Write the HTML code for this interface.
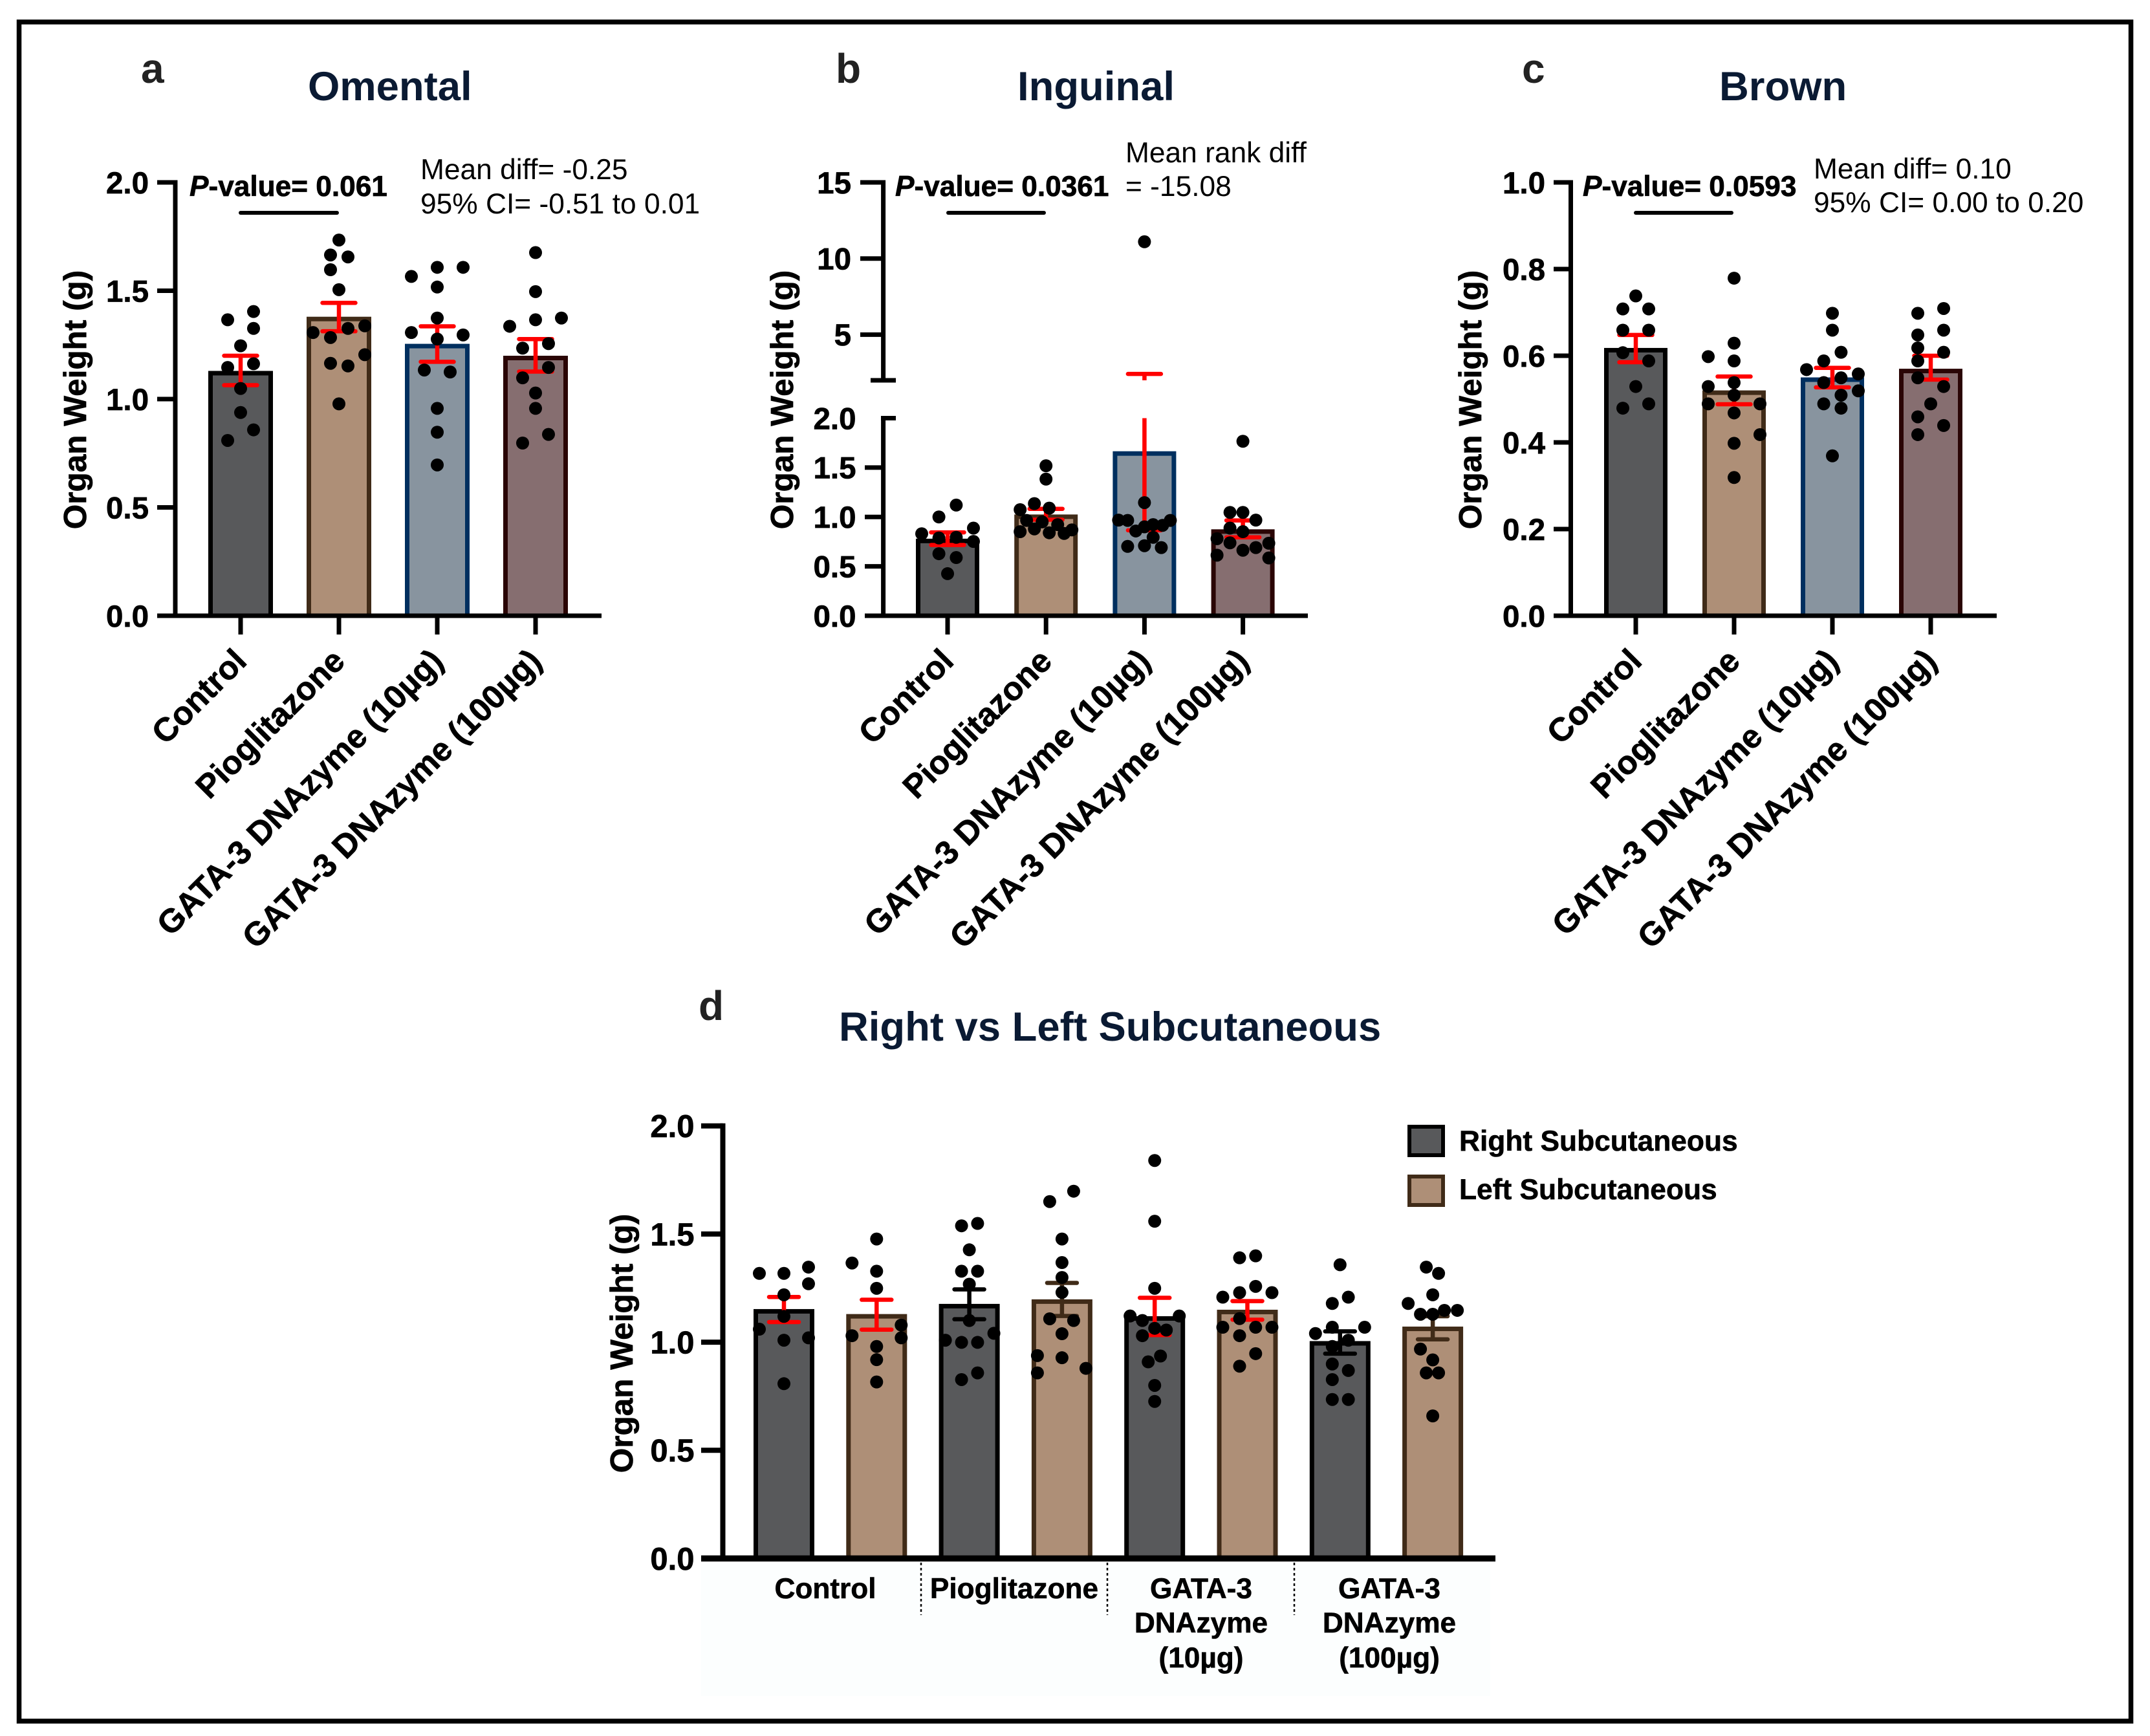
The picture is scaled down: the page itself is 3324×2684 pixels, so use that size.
<!DOCTYPE html>
<html lang="en">
<head>
<meta charset="utf-8">
<title>Organ weight by treatment</title>
<style>
  html, body { margin: 0; padding: 0; background: #fff; }
  body { width: 3324px; height: 2684px; overflow: hidden; }
  svg { display: block; }
  text { font-family: "Liberation Sans", Arial, sans-serif; }
  .b { font-weight: 700; }
  .title { font-weight: 700; font-size: 63.4px; fill: #0a1a33; }
  .letter { font-weight: 700; font-size: 64px; fill: #222; }
  .note { font-size: 44.3px; fill: #000; }
  .pval { font-size: 44.2px; font-weight: 700; fill: #000; stroke: #000; stroke-width: .7px; }
  .axt { font-size: 49.5px; font-weight: 700; fill: #000; stroke: #000; stroke-width: .7px; }
  .leg { font-size: 44.3px; font-weight: 700; fill: #000; stroke: #000; stroke-width: .6px; }
  .grp { font-size: 44.2px; font-weight: 700; fill: #000; text-anchor: middle; stroke: #000; stroke-width: .6px; }
  #charts text { stroke: #000; stroke-width: .7px; }
</style>
</head>
<body>
<svg id="fig" xmlns="http://www.w3.org/2000/svg" width="3324" height="2684" viewBox="0 0 3324 2684">
  <rect x="0" y="0" width="3324" height="2684" fill="#fff"/>
  <rect x="29.5" y="34" width="3265" height="2627" fill="none" stroke="#000" stroke-width="7.5"/>

  <text class="letter" x="218" y="128">a</text>
  <text class="letter" x="1292" y="128">b</text>
  <text class="letter" x="2353" y="128">c</text>
  <text class="letter" x="1080" y="1577">d</text>

  <text class="title" x="476" y="155">Omental</text>
  <text class="title" x="1573" y="155">Inguinal</text>
  <text class="title" x="2658" y="155">Brown</text>
  <text class="title" x="1297" y="1609">Right vs Left Subcutaneous</text>

  <text class="axt" text-anchor="middle" transform="translate(133 618) rotate(-90)">Organ Weight (g)</text>
  <text class="axt" text-anchor="middle" transform="translate(1226 618) rotate(-90)">Organ Weight (g)</text>
  <text class="axt" text-anchor="middle" transform="translate(2290 618) rotate(-90)">Organ Weight (g)</text>
  <text class="axt" text-anchor="middle" transform="translate(978 2077) rotate(-90)">Organ Weight (g)</text>

  <text class="pval" x="293" y="303"><tspan font-style="italic">P</tspan>-value= 0.061</text>
  <line x1="372" y1="329" x2="521" y2="329" stroke="#000" stroke-width="6" stroke-linecap="round"/>
  <text class="note" x="650" y="277">Mean diff= -0.25</text>
  <text class="note" x="650" y="330">95% CI= -0.51 to 0.01</text>

  <text class="pval" x="1384" y="303"><tspan font-style="italic">P</tspan>-value= 0.0361</text>
  <line x1="1466" y1="329" x2="1614" y2="329" stroke="#000" stroke-width="6" stroke-linecap="round"/>
  <text class="note" x="1740" y="251">Mean rank diff</text>
  <text class="note" x="1740" y="303">= -15.08</text>

  <text class="pval" x="2447" y="303"><tspan font-style="italic">P</tspan>-value= 0.0593</text>
  <line x1="2529" y1="329" x2="2677" y2="329" stroke="#000" stroke-width="6" stroke-linecap="round"/>
  <text class="note" x="2804" y="276">Mean diff= 0.10</text>
  <text class="note" x="2804" y="328">95% CI= 0.00 to 0.20</text>

  <rect x="1084" y="2414" width="1220" height="208" fill="#fcfefe"/>
  <line x1="1424" y1="2416" x2="1424" y2="2497" stroke="#000" stroke-width="2.5" stroke-dasharray="4 4"/>
  <line x1="1712" y1="2416" x2="1712" y2="2497" stroke="#000" stroke-width="2.5" stroke-dasharray="4 4"/>
  <line x1="2001" y1="2416" x2="2001" y2="2497" stroke="#000" stroke-width="2.5" stroke-dasharray="4 4"/>
  <text class="grp" x="1276" y="2471">Control</text>
  <text class="grp" x="1568" y="2471">Pioglitazone</text>
  <text class="grp" x="1857"><tspan x="1857" y="2471">GATA-3</tspan><tspan x="1857" y="2524">DNAzyme</tspan><tspan x="1857" y="2578">(10µg)</tspan></text>
  <text class="grp" x="2148"><tspan x="2148" y="2471">GATA-3</tspan><tspan x="2148" y="2524">DNAzyme</tspan><tspan x="2148" y="2578">(100µg)</tspan></text>

  <rect x="2179" y="1742" width="52" height="44" fill="#58595b" stroke="#000" stroke-width="6"/>
  <text class="leg" x="2256" y="1779">Right Subcutaneous</text>
  <rect x="2179" y="1819" width="52" height="44" fill="#ae8f77" stroke="#402b18" stroke-width="6"/>
  <text class="leg" x="2256" y="1854">Left Subcutaneous</text>

  <g id="charts"></g>
</svg>

<script>
// ---------- category names ----------
const categories = ["Control", "Pioglitazone", "GATA-3 DNAzyme (10µg)", "GATA-3 DNAzyme (100µg)"];
const sideCategories = ["Control right", "Control left", "Pioglitazone right", "Pioglitazone left", "GATA-3 10µg right", "GATA-3 10µg left", "GATA-3 100µg right", "GATA-3 100µg left"];

// ---------- panel a: omental ----------
const omentalTicks = ["0.0", "0.5", "1.0", "1.5", "2.0"];
const omentalMeans = [1.13, 1.38, 1.255, 1.2];
const omentalUpper = [1.20, 1.444, 1.336, 1.277];
const omentalLower = [1.064, 1.313, 1.172, 1.127];
const omentalPoints = [
  [1.404, 1.366, 1.326, 1.246, 1.163, 1.146, 1.049, 0.938, 0.858, 0.809],
  [1.734, 1.665, 1.656, 1.597, 1.505, 1.326, 1.338, 1.307, 1.284, 1.205, 1.165, 1.153, 0.978],
  [1.608, 1.608, 1.566, 1.517, 1.374, 1.307, 1.296, 1.277, 1.134, 1.125, 0.957, 0.847, 0.696],
  [1.676, 1.496, 1.374, 1.366, 1.336, 1.256, 1.235, 1.146, 1.098, 1.028, 0.957, 0.837, 0.797]
];
const omentalSwarm = [
  [1, -1, 1, 0, 1, -1, 0, 0, 1, -1],
  [0, -0.65, 0.7, -0.65, 0, 0.7, 2, -2, -0.65, 2, -0.65, 0.7, 0],
  [0, 2, -2, 0, 0, -2, 2, 0, -1, 1, 0, 0, 0],
  [0, 0, 2, 0, -2, 1, -1, 1, -1, 0, 0, 1, -1]
];

// ---------- panel b: inguinal ----------
const inguinalTicksLow = ["0.0", "0.5", "1.0", "1.5", "2.0"];
const inguinalTicksHigh = ["5", "10", "15"];
const inguinalMeans = [0.78, 1.025, 1.665, 0.875];
const inguinalUpper = [0.844, 1.082, 2.42, 0.965];
const inguinalLower = [0.716, 0.972, 0.865, 0.794];
const inguinalPoints = [
  [1.12, 1.0, 0.887, 0.83, 0.787, 0.794, 0.752, 0.628, 0.589, 0.426],
  [1.518, 1.383, 1.135, 1.089, 1.074, 0.965, 0.95, 0.922, 0.879, 0.869, 0.851, 0.84, 0.833],
  [11.1, 1.145, 0.968, 0.965, 0.965, 0.922, 0.915, 0.90, 0.858, 0.794, 0.702, 0.709, 0.69],
  [1.766, 1.046, 1.046, 0.968, 0.887, 0.851, 0.78, 0.738, 0.734, 0.663, 0.69, 0.613, 0.585]
];
const inguinalSwarm = [
  [0.67, -0.67, 2, -2, -0.67, 0.67, 2, -0.67, 0.67, 0],
  [0, 0, -0.9, 0.25, -2, -1.5, -0.3, 0.9, -0.9, 2, -2, 0.25, 1.4],
  [0, 0, -2, -1.3, 2, 0.67, 1.4, 0, -0.67, 0.67, -1.3, 0, 1.3],
  [0, -1, 0, 1, -1, 0, -2, -1, 2, 0, 1, -2, 2]
];

// ---------- panel c: brown ----------
const brownTicks = ["0.0", "0.2", "0.4", "0.6", "0.8", "1.0"];
const brownMeans = [0.618, 0.52, 0.55, 0.57];
const brownUpper = [0.648, 0.552, 0.572, 0.60];
const brownLower = [0.585, 0.488, 0.527, 0.545];
const brownPoints = [
  [0.738, 0.708, 0.708, 0.659, 0.659, 0.607, 0.588, 0.529, 0.489, 0.479],
  [0.779, 0.629, 0.598, 0.588, 0.538, 0.529, 0.509, 0.489, 0.489, 0.468, 0.418, 0.398, 0.319],
  [0.698, 0.659, 0.608, 0.588, 0.568, 0.558, 0.549, 0.538, 0.519, 0.509, 0.489, 0.479, 0.369],
  [0.709, 0.698, 0.659, 0.648, 0.618, 0.608, 0.588, 0.549, 0.529, 0.489, 0.459, 0.439, 0.418]
];
const brownSwarm = [
  [0, -1, 1, -1, 1, -1, 1, 0, 1, -1],
  [0, 0, -2, 0, 0, -2, 0, -2, 2, 0, 2, 0, 0],
  [0, 0, 0.67, -0.67, -2, 2, 0.67, -0.67, 2, 0.67, -0.67, 0.67, 0],
  [1, -1, 1, -1, -1, 1, -1, -1, 1, 0, -1, 1, -1]
];

// ---------- panel d: right vs left subcutaneous ----------
const subcutTicks = ["0.0", "0.5", "1.0", "1.5", "2.0"];
const subcutMeans = [1.153, 1.13, 1.177, 1.198, 1.12, 1.15, 1.005, 1.072];
const subcutUpper = [1.209, 1.196, 1.244, 1.274, 1.205, 1.19, 1.05, 1.12];
const subcutLower = [1.093, 1.058, 1.106, 1.121, 1.033, 1.104, 0.947, 1.013];
const subcutPoints = [
  [1.347, 1.318, 1.318, 1.27, 1.219, 1.119, 1.06, 1.02, 1.009, 0.808],
  [1.477, 1.366, 1.328, 1.249, 1.079, 1.03, 1.02, 0.98, 0.919, 0.816],
  [1.549, 1.538, 1.427, 1.328, 1.328, 1.268, 1.10, 1.041, 1.009, 0.999, 0.999, 0.858, 0.827],
  [1.698, 1.65, 1.477, 1.368, 1.299, 1.23, 1.108, 1.10, 1.039, 0.938, 0.928, 0.879, 0.858],
  [1.84, 1.559, 1.249, 1.121, 1.121, 1.10, 1.064, 1.056, 1.03, 0.936, 0.909, 0.80, 0.726],
  [1.39, 1.399, 1.258, 1.229, 1.229, 1.208, 1.109, 1.069, 1.069, 1.069, 1.03, 0.947, 0.889],
  [1.358, 1.208, 1.179, 1.069, 1.069, 1.04, 1.009, 0.98, 0.899, 0.869, 0.827, 0.735, 0.735],
  [1.347, 1.318, 1.219, 1.179, 1.147, 1.147, 1.129, 1.129, 0.968, 0.918, 0.858, 0.858, 0.659]
];
const subcutSwarm = [
  [1.9, -1.9, 0, 1.9, 0, 0, -1.9, 1.9, 0, 0],
  [0, -1.9, 0, 0, 1.9, -1.9, 1.9, 0, 0, 0],
  [0.64, -0.6, 0, -0.6, 0.64, 0, 0, 1.9, -1.85, -0.6, 0.64, 0.64, -0.6],
  [0.9, -0.95, 0, 0, 0, 0, -0.95, 0.9, 0, -1.9, 0, 1.85, -1.9],
  [0, 0, 0, -1.9, 1.9, -0.95, 0, 0.9, -0.95, 0.45, -0.5, 0, 0],
  [-0.6, 0.64, 0.64, -0.6, 1.9, -1.9, -0.6, -1.9, 0.64, 1.9, -0.6, 0.64, -0.6],
  [0, 0.64, -0.6, 1.9, -0.6, -1.9, 0.64, -0.6, -0.6, 0.64, -0.6, -0.6, 0.64],
  [-0.5, 0.45, 0, -1.9, 0.9, 1.9, -0.95, 0, -0.95, 0, -0.5, 0.45, 0]
];

// ---------- drawing ----------
const NS = "http://www.w3.org/2000/svg";
const root = document.getElementById("charts");
const RED = "#ff0000";
const BLACK = "#000000";
const DARKBROWN = "#402b18";
const STYLE = {
  dark:  { fill: "#58595b", stroke: "#000000" },
  tan:   { fill: "#ae8f77", stroke: "#402b18" },
  slate: { fill: "#88949f", stroke: "#002f5f" },
  mauve: { fill: "#866e70", stroke: "#2a0505" }
};

function mk(tag, attrs, parent) {
  const el = document.createElementNS(NS, tag);
  for (const k in attrs) el.setAttribute(k, attrs[k]);
  parent.appendChild(el);
  return el;
}

function linearScale(dom0, dom1, px0, px1) {
  return function (v) { return px0 + (v - dom0) * (px1 - px0) / (dom1 - dom0); };
}

function drawTickLabels(g, labels, yFn, axisX, tickLeft, labelRight, size, thick, panel) {
  labels.forEach(function (lab) {
    const v = parseFloat(lab);
    const y = yFn(v);
    const tick = mk("line", { x1: tickLeft, x2: axisX, y1: y, y2: y, stroke: "#000", "stroke-width": thick }, g);
    
    
    const t = mk("text", { x: labelRight, y: y + size * 0.355, "text-anchor": "end", "font-size": size, "font-weight": 700, fill: "#000" }, g);
    t.textContent = lab;
    
    
  });
}

function drawGroup(g, cfg, i) {
  const cx = cfg.xFn(i);
  const st = cfg.styles[i];
  const sw = cfg.barStroke;
  const top = cfg.yFn(cfg.means[i]);
  const name = cfg.panel + "-" + cfg.names[i].toLowerCase().replace(/[^a-z0-9]+/g, "-");

  const bar = mk("rect", {
    x: cx - cfg.barWidth / 2 + sw / 2, y: top + sw / 2,
    width: cfg.barWidth - sw, height: Math.max(0, cfg.baseY - top - sw / 2),
    fill: st.fill, stroke: st.stroke, "stroke-width": sw
  }, g);
  
  

  const errColor = cfg.errColors[i];
  const errG = mk("g", { stroke: errColor, "stroke-width": cfg.errStroke, "stroke-linecap": "round" }, g);
  
  
  const yU = cfg.yFn(cfg.upper[i]);
  const yL = cfg.yFn(cfg.lower[i]);
  if (cfg.breakValue !== undefined && cfg.upper[i] > cfg.breakValue) {
    mk("line", { x1: cx, x2: cx, y1: yL, y2: cfg.yFn(cfg.breakValue), "stroke-linecap": "butt" }, errG);
    mk("line", { x1: cx, x2: cx, y1: yU, y2: cfg.breakTopY, "stroke-linecap": "butt" }, errG);
  } else {
    mk("line", { x1: cx, x2: cx, y1: yL, y2: yU, "stroke-linecap": "butt" }, errG);
  }
  mk("line", { x1: cx - cfg.capWidth / 2, x2: cx + cfg.capWidth / 2, y1: yU, y2: yU }, errG);
  mk("line", { x1: cx - cfg.capWidth / 2, x2: cx + cfg.capWidth / 2, y1: yL, y2: yL }, errG);

  const dots = mk("g", { fill: "#000" }, g);
  
  
  cfg.points[i].forEach(function (v, j) {
    const dot = mk("circle", { cx: cx + cfg.swarm[i][j] * cfg.swarmUnit, cy: cfg.yFn(v), r: cfg.dotR }, dots);
    
    
  });
}

function drawRotatedLabels(g, names, xFn, y, size, dx, panel) {
  names.forEach(function (n, i) {
    const x = xFn(i) + dx;
    const t = mk("text", { "text-anchor": "end", "font-size": size, "font-weight": 700, fill: "#000", transform: "translate(" + x + " " + y + ") rotate(-45)" }, g);
    t.textContent = n;
    
    
  });
}

function xBand(first, step) { return function (i) { return first + step * i; }; }

const fourStyles = [STYLE.dark, STYLE.tan, STYLE.slate, STYLE.mauve];
const fourErr = [RED, RED, RED, RED];

function drawSimplePanel(c) {
  const g = mk("g", {}, root);
  
  
  const maxV = parseFloat(c.ticks[c.ticks.length - 1]);
  const yFn = linearScale(0, maxV, c.baseY, c.topY);
  const xFn = xBand(c.firstX, c.stepX);
  const cfg = {
    panel: c.panel, names: categories, styles: fourStyles, errColors: fourErr, means: c.means, upper: c.upper,
    lower: c.lower, points: c.points, swarm: c.swarm, xFn: xFn, yFn: yFn, baseY: c.baseY, barWidth: c.barWidth,
    barStroke: 7, errStroke: 6.5, capWidth: 51, swarmUnit: 20, dotR: 10
  };
  categories.forEach(function (_, i) { drawGroup(g, cfg, i); });
  categories.forEach(function (n, i) {
    const tk = mk("line", { x1: xFn(i), x2: xFn(i), y1: c.baseY, y2: 981, stroke: "#000", "stroke-width": 7 }, g);
    
    
  });
  const yAxis = mk("line", { x1: c.axisX, x2: c.axisX, y1: c.topY - 3.5, y2: c.baseY + 3.5, stroke: "#000", "stroke-width": 7 }, g);
  
  
  const xAxis = mk("line", { x1: c.tickLeft, x2: c.axisEnd, y1: c.baseY, y2: c.baseY, stroke: "#000", "stroke-width": 7 }, g);
  
  
  drawTickLabels(g, c.ticks, yFn, c.axisX, c.tickLeft, c.labelRight, 47.5, 7, c.panel);
  drawRotatedLabels(g, categories, xFn, 1025, 51, 12, c.panel);
}

drawSimplePanel({
  panel: "omental", ticks: omentalTicks, means: omentalMeans, upper: omentalUpper, lower: omentalLower,
  points: omentalPoints, swarm: omentalSwarm, baseY: 952, topY: 282, firstX: 372, stepX: 152, barWidth: 100,
  axisX: 271, tickLeft: 243, axisEnd: 930, labelRight: 230
});

drawSimplePanel({
  panel: "brown", ticks: brownTicks, means: brownMeans, upper: brownUpper, lower: brownLower,
  points: brownPoints, swarm: brownSwarm, baseY: 952, topY: 282, firstX: 2529, stepX: 152, barWidth: 98,
  axisX: 2428.5, tickLeft: 2402, axisEnd: 3087, labelRight: 2389
});

// broken-axis panel
(function () {
  const panel = "inguinal";
  const g = mk("g", {}, root);
  
  
  const baseY = 952, lowTop = 646.5, highBottom = 588, highTop = 282;
  const axisX = 1365.6, tickLeft = 1337;
  const breakAt = parseFloat(inguinalTicksLow[inguinalTicksLow.length - 1]);
  const yLow = linearScale(0, breakAt, baseY, lowTop);
  const yHigh = linearScale(breakAt, parseFloat(inguinalTicksHigh[inguinalTicksHigh.length - 1]), highBottom, highTop);
  const yFn = function (v) { return v <= breakAt ? yLow(v) : yHigh(v); };
  const xFn = xBand(1465, 152.2);
  const cfg = {
    panel: panel, names: categories, styles: fourStyles, errColors: fourErr, means: inguinalMeans, upper: inguinalUpper,
    lower: inguinalLower, points: inguinalPoints, swarm: inguinalSwarm, xFn: xFn, yFn: yFn, baseY: baseY, barWidth: 98,
    barStroke: 7, errStroke: 6.5, capWidth: 51, swarmUnit: 20, dotR: 10, breakValue: breakAt, breakTopY: highBottom
  };
  categories.forEach(function (_, i) { drawGroup(g, cfg, i); });
  categories.forEach(function (n, i) {
    const tk = mk("line", { x1: xFn(i), x2: xFn(i), y1: baseY, y2: 981, stroke: "#000", "stroke-width": 7 }, g);
    
    
  });
  const upperAxis = mk("line", { x1: axisX, x2: axisX, y1: highTop - 3.5, y2: highBottom, stroke: "#000", "stroke-width": 7 }, g);
  
  
  const lowerAxis = mk("line", { x1: axisX, x2: axisX, y1: lowTop, y2: baseY + 3.5, stroke: "#000", "stroke-width": 7 }, g);
  
  
  const capHigh = mk("line", { x1: 1346, x2: 1385, y1: highBottom, y2: highBottom, stroke: "#000", "stroke-width": 7 }, g);
  
  
  const capLow = mk("line", { x1: 1362, x2: 1385, y1: lowTop, y2: lowTop, stroke: "#000", "stroke-width": 7 }, g);
  
  
  const xAxis = mk("line", { x1: tickLeft, x2: 2022, y1: baseY, y2: baseY, stroke: "#000", "stroke-width": 7 }, g);
  
  
  drawTickLabels(g, inguinalTicksLow.slice(0, -1), yLow, axisX, tickLeft, 1323.5, 47.5, 7, panel);
  const topLabel = mk("text", { x: 1323.5, y: yLow(breakAt) + 16.9, "text-anchor": "end", "font-size": 47.5, "font-weight": 700, fill: "#000" }, g);
  topLabel.textContent = inguinalTicksLow[inguinalTicksLow.length - 1];
  
  
  drawTickLabels(g, inguinalTicksHigh, yHigh, axisX, 1330, 1316, 47.5, 7, panel);
  drawRotatedLabels(g, categories, xFn, 1025, 51, 12, panel);
})();

// grouped panel d
(function () {
  const panel = "subcutaneous";
  const g = mk("g", {}, root);
  
  
  const baseY = 2409.5, topY = 1740.7, axisX = 1117.5, tickLeft = 1084;
  const yFn = linearScale(0, parseFloat(subcutTicks[subcutTicks.length - 1]), baseY, topY);
  const xFn = xBand(1212, 143.3);
  const styles = sideCategories.map(function (_, i) { return i % 2 === 0 ? STYLE.dark : STYLE.tan; });
  const errColors = [RED, RED, BLACK, DARKBROWN, RED, RED, BLACK, DARKBROWN];
  const cfg = {
    panel: panel, names: sideCategories, styles: styles, errColors: errColors, means: subcutMeans, upper: subcutUpper,
    lower: subcutLower, points: subcutPoints, swarm: subcutSwarm, xFn: xFn, yFn: yFn, baseY: baseY, barWidth: 94,
    barStroke: 7, errStroke: 6.5, capWidth: 46, swarmUnit: 20, dotR: 10
  };
  sideCategories.forEach(function (_, i) { drawGroup(g, cfg, i); });
  const yAxis = mk("line", { x1: axisX, x2: axisX, y1: topY - 4, y2: baseY + 4, stroke: "#000", "stroke-width": 8 }, g);
  
  
  const xAxis = mk("line", { x1: tickLeft, x2: 2312, y1: baseY, y2: baseY, stroke: "#000", "stroke-width": 9.5 }, g);
  
  
  drawTickLabels(g, subcutTicks, yFn, axisX, tickLeft, 1073.5, 49, 8, panel);
})();
</script>
</body>
</html>
